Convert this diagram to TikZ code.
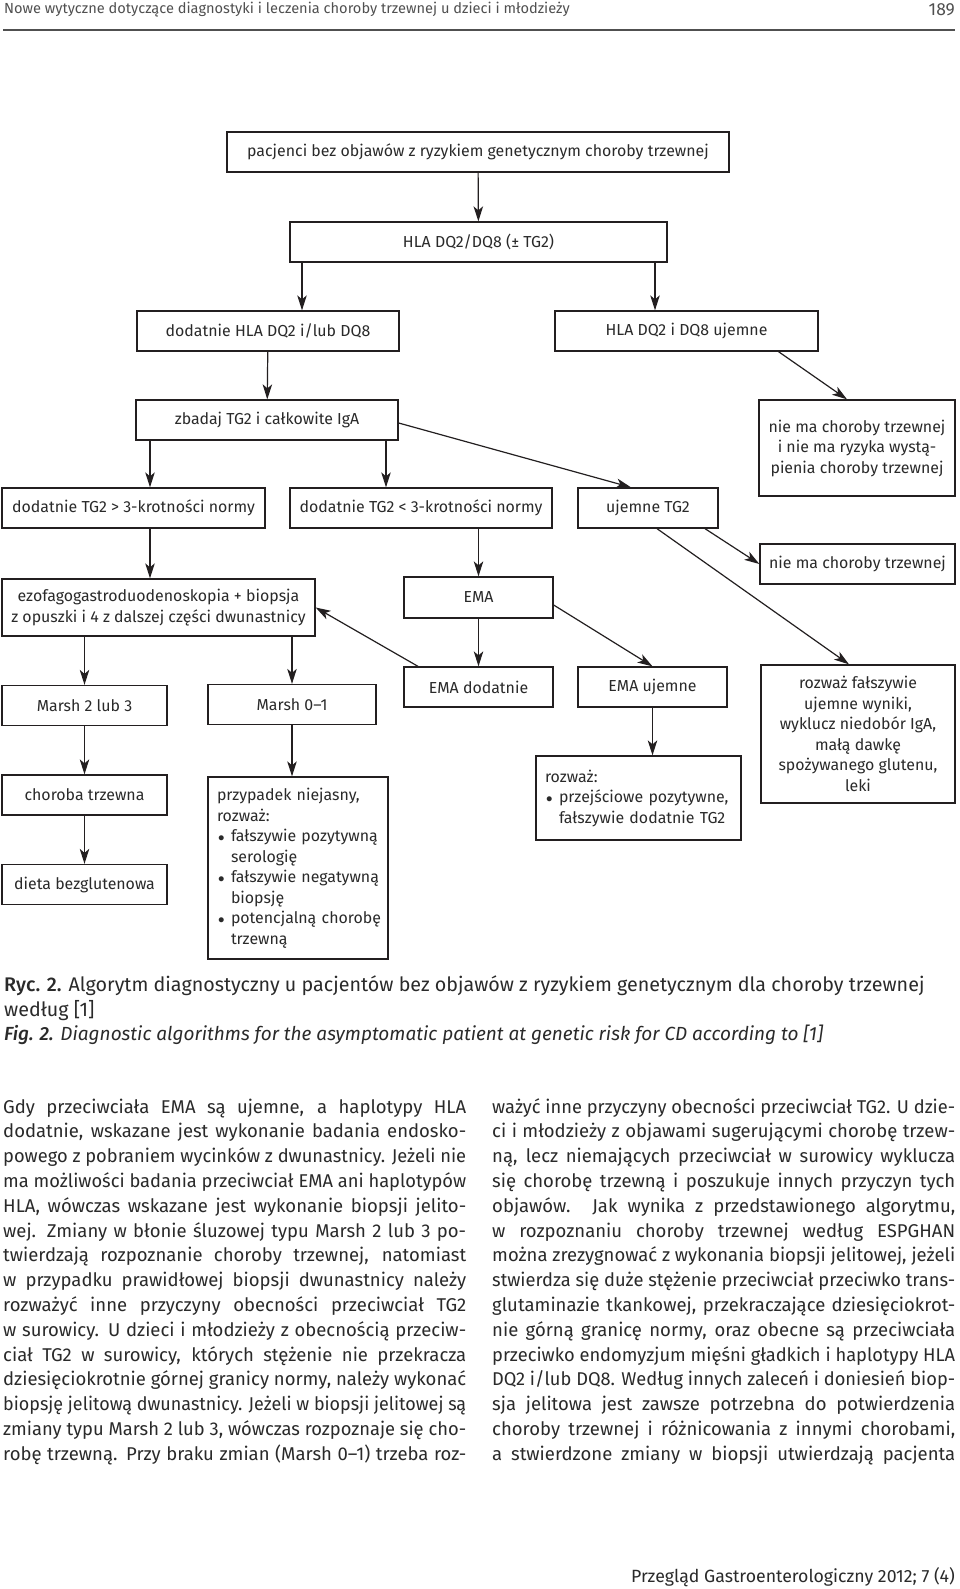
\documentclass[tikz,border=0pt]{standalone}
\usepackage{fontspec}
\usepackage{graphicx}
\setmainfont{Fira Sans}[BoldFont={* Medium},BoldItalicFont={* Medium Italic}]
\usetikzlibrary{arrows.meta}
\definecolor{lc}{HTML}{231F20}
\definecolor{tc}{HTML}{2A2A2A}
\definecolor{hc}{HTML}{505050}
\newlength\colw \setlength\colw{463pt}
\newlength\jlw
\newcommand\jl[1]{\settowidth\jlw{#1}%
  \ifdim\jlw>\colw \hbox{\resizebox{\colw}{\height}{#1}}%
  \else \hbox to \colw{\spaceskip=\fontdimen2\font plus 1fil\relax #1}\fi}
\newcommand\dfont{\fontsize{15.9}{20.5}\selectfont}
\newcommand\bfont{\fontsize{18.5}{24.8}\selectfont}
\newcommand\bul{\makebox[14pt][l]{\hspace*{1pt}\scalebox{0.75}{$\bullet$}}}
\newcommand\ind{\hspace*{14pt}}
\tikzset{
  bx/.style={draw=lc, line width=1.3pt, inner sep=0pt, font=\dfont, text=tc, align=center, minimum height=40pt},
  lbx/.style={bx, align=left},
  arr/.style={draw=lc, line width=1.2pt, -{Stealth[length=15pt,width=9.5pt,inset=4pt]}},
  txt/.style={inner sep=0pt, text=tc, anchor=base west}
}
\begin{document}
\begin{tikzpicture}[x=1pt,y=-1pt]
\useasboundingbox (0,0) rectangle (960,1589);
\fill[white] (0,0) rectangle (960,1589);
% header
\node[txt, text=hc, font=\fontsize{14.6}{16}\selectfont] (head) at (4,14) {Nowe wytyczne dotyczące diagnostyki i leczenia choroby trzewnej u dzieci i młodzieży};
\node[inner sep=0pt, text=hc, anchor=base east, font=\fontsize{17.5}{20}\selectfont] (page) at (955,16) {189};
\coordinate (hl1) at (3,30);
\coordinate (hl2) at (955,30);
\draw[hc, line width=1.8pt] (hl1) -- (hl2);
% boxes
\node[bx, minimum width=502pt] (top) at (478,152) {pacjenci bez objawów z ryzykiem genetycznym choroby trzewnej};
\node[bx, minimum width=377pt] (hla) at (478.5,242) {HLA DQ2/DQ8 (± TG2)};
\node[bx, minimum width=262pt] (dpos) at (268,331) {dodatnie HLA DQ2 i/lub DQ8};
\node[bx, minimum width=263pt] (dneg) at (686.5,331) {HLA DQ2 i DQ8 ujemne};
\node[bx, minimum width=262pt] (zbad) at (267,420) {zbadaj TG2 i całkowite IgA};
\node[bx, minimum width=196pt, minimum height=96pt] (nory) at (857,448) {nie ma choroby trzewnej\\i nie ma ryzyka wystą-\\pienia choroby trzewnej};
\node[bx, minimum width=263pt] (tgA) at (133.5,508) {dodatnie TG2 > 3-krotności normy};
\node[bx, minimum width=262pt] (tgB) at (421,508) {dodatnie TG2 < 3-krotności normy};
\node[bx, minimum width=140pt] (tgN) at (648,508) {ujemne TG2};
\node[bx, minimum width=195pt] (nmc) at (857.5,564) {nie ma choroby trzewnej};
\node[bx, minimum width=313pt, minimum height=57pt] (ezo) at (158.5,607.5) {ezofagogastroduodenoskopia + biopsja\\z opuszki i 4 z dalszej części dwunastnicy};
\node[bx, minimum width=149pt, minimum height=41pt] (ema) at (478.5,597.5) {EMA};
\node[bx, minimum width=165pt] (m23) at (84.5,705.5) {Marsh 2 lub 3};
\node[bx, minimum width=168pt] (m01) at (292,704.5) {Marsh 0–1};
\node[bx, minimum width=149pt] (emap) at (478.5,687) {EMA dodatnie};
\node[bx, minimum width=149pt] (eman) at (652.5,687) {EMA ujemne};
\node[bx, minimum width=194pt, minimum height=138pt] (rfal) at (858,734) {rozważ fałszywie\\ujemne wyniki,\\wyklucz niedobór IgA,\\małą dawkę\\spożywanego glutenu,\\leki};
\node[bx, minimum width=165pt] (chor) at (84.5,795) {choroba trzewna};
\node[lbx, text width=162pt, inner xsep=9pt, minimum height=182pt] (prz) at (298,868) {\mbox{przypadek niejasny,}\\\mbox{rozważ:}\\\mbox{\bul fałszywie pozytywną}\\\mbox{\ind serologię}\\\mbox{\bul fałszywie negatywną}\\\mbox{\ind biopsję}\\\mbox{\bul potencjalną chorobę}\\\mbox{\ind trzewną}};
\node[lbx, text width=187pt, inner xsep=9pt, minimum height=84pt] (rprz) at (638.5,798) {\mbox{rozważ:}\\\mbox{\bul przejściowe pozytywne,}\\\mbox{\ind fałszywie dodatnie TG2}};
\node[bx, minimum width=165pt] (diet) at (84.5,884.5) {dieta bezglutenowa};
% connectors
\draw[arr] (top) -- (hla);
\draw[arr] ([xshift=-176.5pt]hla.south) -- ([xshift=-176.5pt]hla.south |- dpos.north);
\draw[arr] ([xshift=176.5pt]hla.south) -- ([xshift=176.5pt]hla.south |- dneg.north);
\draw[arr] (dpos) -- (zbad);
\draw[arr] ([xshift=92pt]dneg.south) -- ([xshift=-10pt]nory.north);
\draw[arr] ([xshift=-117pt]zbad.south) -- ([xshift=-117pt]zbad.south |- tgA.north);
\draw[arr] ([xshift=119pt]zbad.south) -- ([xshift=119pt]zbad.south |- tgB.north);
\draw[arr] ([yshift=-3pt]zbad.east) -- ([xshift=-17pt]tgN.north);
\draw[arr] ([xshift=57pt]tgN.south) -- (nmc.west);
\draw[arr] ([xshift=9pt]tgN.south) -- ([xshift=-9pt]rfal.north);
\draw[arr] ([xshift=16.5pt]tgA.south) -- ([xshift=16.5pt]tgA.south |- ezo.north);
\draw[arr] (tgB.south -| ema.north) -- (ema.north);
\draw[arr] (ema) -- (emap);
\draw[arr] ([yshift=-7.5pt]ema.east) -- (eman.north);
\draw[arr] ([xshift=-60.5pt]emap.north) -- (ezo.east);
\draw[arr] (ezo.south -| m23.north) -- (m23.north);
\draw[arr] (ezo.south -| m01.north) -- (m01.north);
\draw[arr] (m23) -- (chor);
\draw[arr] (chor) -- (diet);
\draw[arr] (m01.south) -- (m01.south |- prz.north);
\draw[arr] (eman.south) -- (eman.south |- rprz.north);
% caption
\node[txt, font=\fontsize{19.7}{24}\selectfont] (cap1) at (4,991) {\textbf{Ryc. 2.} Algorytm diagnostyczny u pacjentów bez objawów z ryzykiem genetycznym dla choroby trzewnej};
\node[txt, font=\fontsize{19.7}{24}\selectfont] (cap2) at (4,1016) {według [1]};
\node[txt, font=\fontsize{19}{24}\selectfont] (cap3) at (4,1040) {\textbf{\textit{Fig. 2.}} \textit{Diagnostic algorithms for the asymptomatic patient at genetic risk for CD according to [1]}};
% body text
\node[txt, font=\bfont] (colL) at (3,1113) {\vtop{\baselineskip=24.8pt\lineskiplimit=-100pt
\jl{Gdy przeciwciała EMA są ujemne, a haplotypy HLA}
\jl{dodatnie, wskazane jest wykonanie badania endosko-}
\jl{powego z pobraniem wycinków z dwunastnicy. Jeżeli nie}
\jl{ma możliwości badania przeciwciał EMA ani haplotypów}
\jl{HLA, wówczas wskazane jest wykonanie biopsji jelito-}
\jl{wej. Zmiany w błonie śluzowej typu Marsh 2 lub 3 po-}
\jl{twierdzają rozpoznanie choroby trzewnej, natomiast}
\jl{w przypadku prawidłowej biopsji dwunastnicy należy}
\jl{rozważyć inne przyczyny obecności przeciwciał TG2}
\jl{w surowicy. U dzieci i młodzieży z obecnością przeciw-}
\jl{ciał TG2 w surowicy, których stężenie nie przekracza}
\jl{dziesięciokrotnie górnej granicy normy, należy wykonać}
\jl{biopsję jelitową dwunastnicy. Jeżeli w biopsji jelitowej są}
\jl{zmiany typu Marsh 2 lub 3, wówczas rozpoznaje się cho-}
\jl{robę trzewną. Przy braku zmian (Marsh 0–1) trzeba roz-}}};
\node[txt, font=\bfont] (colR) at (492,1113) {\vtop{\baselineskip=24.8pt\lineskiplimit=-100pt
\jl{ważyć inne przyczyny obecności przeciwciał TG2. U dzie-}
\jl{ci i młodzieży z objawami sugerującymi chorobę trzew-}
\jl{ną, lecz niemających przeciwciał w surowicy wyklucza}
\jl{się chorobę trzewną i poszukuje innych przyczyn tych}
\jl{objawów. Jak wynika z przedstawionego algorytmu,}
\jl{w rozpoznaniu choroby trzewnej według ESPGHAN}
\jl{można zrezygnować z wykonania biopsji jelitowej, jeżeli}
\jl{stwierdza się duże stężenie przeciwciał przeciwko trans-}
\jl{glutaminazie tkankowej, przekraczające dziesięciokrot-}
\jl{nie górną granicę normy, oraz obecne są przeciwciała}
\jl{przeciwko endomyzjum mięśni gładkich i haplotypy HLA}
\jl{DQ2 i/lub DQ8. Według innych zaleceń i doniesień biop-}
\jl{sja jelitowa jest zawsze potrzebna do potwierdzenia}
\jl{choroby trzewnej i różnicowania z innymi chorobami,}
\jl{a stwierdzone zmiany w biopsji utwierdzają pacjenta}}};
% footer
\node[inner sep=0pt, text=tc, anchor=base east, font=\fontsize{17.7}{20}\selectfont] (foot) at (955,1582) {Przegląd Gastroenterologiczny 2012; 7 (4)};
\end{tikzpicture}
\end{document}
